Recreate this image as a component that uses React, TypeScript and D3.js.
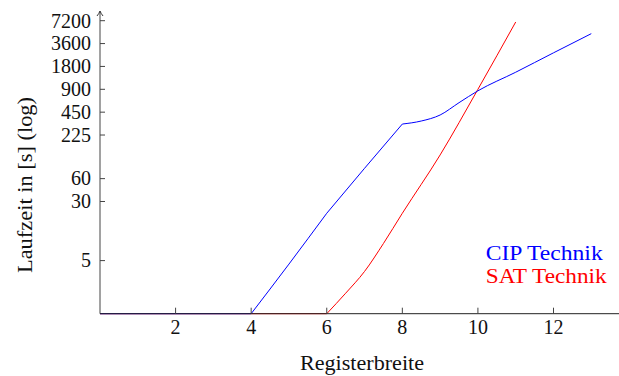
import React from "react";
import * as d3 from "d3";

const cipX = [0, 4, 5, 6, 7, 8, 8.5, 9, 9.5, 10, 11, 12, 13];
const cipY = [1, 1, 4.5, 21, 82, 314, 344, 413, 600, 860, 1510, 2720, 4860];
const cipKinks = [4, 6, 8];
const satX = [0, 6, 6.5, 7, 7.5, 8, 9, 10, 11];
const satY = [1, 1, 1.86, 3.6, 8.4, 21, 123, 900, 6925];
const satKinks = [6];
const xTicks = [2, 4, 6, 8, 10, 12];
const yTicks = [5, 30, 60, 225, 450, 900, 1800, 3600, 7200];
const seriesNames = ["CIP Technik", "SAT Technik"];
const xLabel = "Registerbreite";
const yLabel = "Laufzeit in [s] (log)";

const W = 619;
const H = 376;
const FONT = "Liberation Serif, DejaVu Serif, serif";

function splitAt(xs: number[], ys: number[], kinks: number[]) {
  const pieces: [number, number][][] = [];
  let cur: [number, number][] = [];
  xs.forEach((v, i) => {
    cur.push([v, ys[i]]);
    if (kinks.includes(v) && i > 0 && i < xs.length - 1) {
      pieces.push(cur);
      cur = [[v, ys[i]]];
    }
  });
  if (cur.length > 1) pieces.push(cur);
  return pieces;
}

export default function App() {
  const x = d3.scaleLinear().domain([0, 12]).range([100, 553.5]);
  const y = d3.scaleLog().domain([1, 7200]).range([313.7, 20.7]);
  const line = d3
    .line<[number, number]>()
    .x((d) => x(d[0]))
    .y((d) => y(d[1]))
    .curve(d3.curveMonotoneX);
  const pathOf = (xs: number[], ys: number[], k: number[]) =>
    splitAt(xs, ys, k)
      .map((p) => line(p) || "")
      .join("");
  const x0 = x(0);
  const yb = y(1);
  const txt = { fontFamily: FONT, fontSize: 20 } as React.CSSProperties;

  return (
    <svg
      width={W}
      height={H}
      style={{ position: "absolute", left: 0, top: 0, background: "#fff" }}
    >
      <rect width={W} height={H} fill="#fff" />
      <path d={pathOf(satX, satY, satKinks)} fill="none" stroke="#ff0000" strokeWidth={1} />
      <path d={pathOf(cipX, cipY, cipKinks)} fill="none" stroke="#0000ff" strokeWidth={1} />

      {/* y axis */}
      <line x1={x0} x2={x0} y1={yb} y2={11.5} stroke="#444" strokeWidth={1} />
      <path
        d={`M${x0 - 3},${16} Q${x0 - 1},${13.5} ${x0},${11} Q${x0 + 1},${13.5} ${x0 + 3},${16}`}
        fill="none"
        stroke="#222"
        strokeWidth={0.9}
      />
      {yTicks.map((t) => (
        <g key={"y" + t}>
          <line x1={x0} x2={x0 + 5} y1={y(t)} y2={y(t)} stroke="#444" strokeWidth={1} />
          <text x={91} y={y(t)} dy="0.34em" textAnchor="end" style={txt} fill="#111">
            {t}
          </text>
        </g>
      ))}

      {/* x axis */}
      <line x1={x0} x2={W} y1={yb} y2={yb} stroke="#222" strokeWidth={1} />
      {xTicks.map((t) => (
        <g key={"x" + t}>
          <line x1={x(t)} x2={x(t)} y1={yb} y2={yb - 6} stroke="#444" strokeWidth={1} />
          <text x={x(t)} y={334} textAnchor="middle" style={txt} fill="#111">
            {t}
          </text>
        </g>
      ))}

      {/* axis labels */}
      <text x={362} y={370} textAnchor="middle" style={txt} fill="#111" textLength={124} lengthAdjust="spacingAndGlyphs">
        {xLabel}
      </text>
      <text
        transform={`translate(32,185) rotate(-90)`}
        textAnchor="middle"
        style={txt}
        fill="#111"
        textLength={176}
        lengthAdjust="spacingAndGlyphs"
      >
        {yLabel}
      </text>

      {/* legend */}
      <text x={485.7} y={260} style={txt} fill="#0000ff" textLength={117} lengthAdjust="spacingAndGlyphs">
        {seriesNames[0]}
      </text>
      <text x={485.7} y={283} style={txt} fill="#ff0000" textLength={121} lengthAdjust="spacingAndGlyphs">
        {seriesNames[1]}
      </text>
    </svg>
  );
}
